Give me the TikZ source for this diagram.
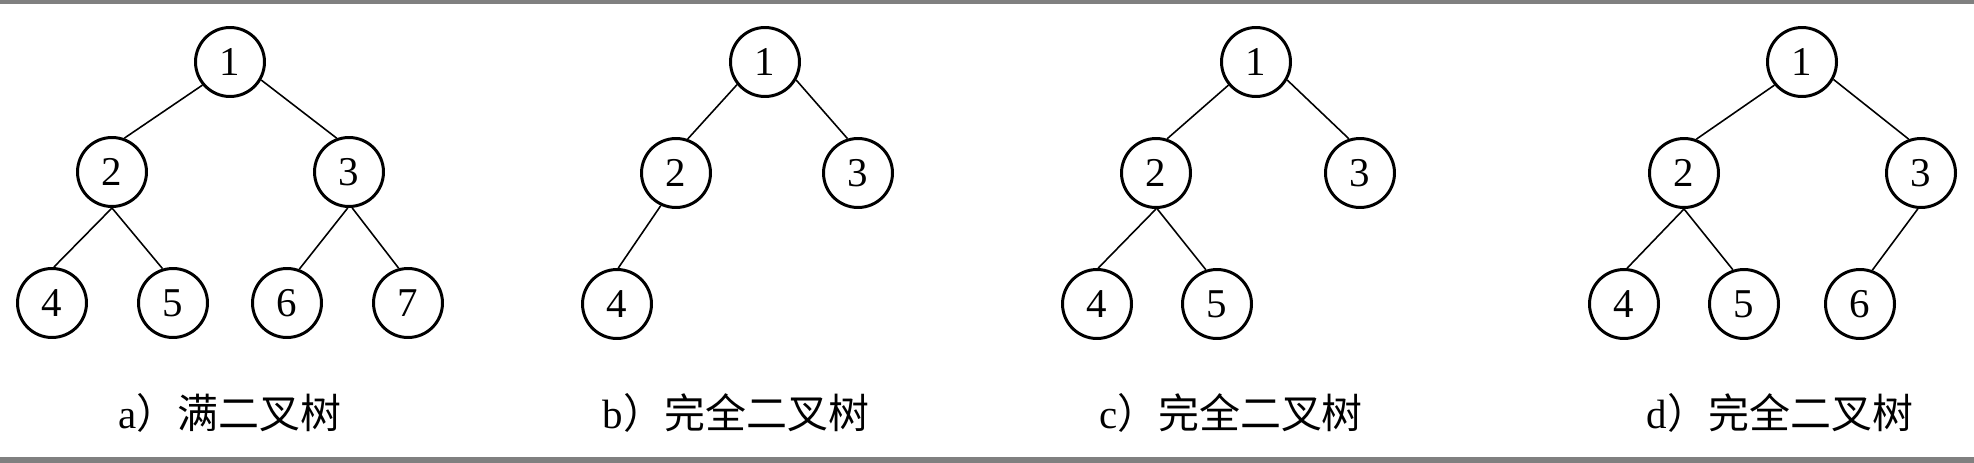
\documentclass[tikz,border=0pt]{standalone}
\usepackage{fontspec}
\usepackage{tikz}
\setmainfont{Liberation Serif}
\newfontfamily\cjk{Noto Sans CJK SC}
\tikzstyle{vertex} = [draw, circle, line width=1.7pt, minimum size=1.38cm, inner sep=0pt, font=\fontsize{23.3pt}{28pt}\selectfont]
\tikzstyle{edge} = [draw, line width=0.9pt]
\tikzstyle{caption} = [anchor=base, inner sep=0pt, font=\fontsize{23.3pt}{28pt}\selectfont]
\definecolor{bar}{RGB}{128, 128, 128}

\begin{document}
\begin{tikzpicture}[x=0.02cm, y=-0.02cm]

  \useasboundingbox (0,0) rectangle (1974,463);
  \fill[bar] (0,0) rectangle (1974,4);
  \fill[bar] (0,457) rectangle (1974,463);

  % ============================ a) full tree ==================================

  \node[vertex] (a1) at (230,62) {1};
  \node[vertex] (a2) at (112,172) {2};
  \node[vertex] (a3) at (349,172) {3};
  \node[vertex] (a4) at (52,303) {4};
  \node[vertex] (a5) at (173,303) {5};
  \node[vertex] (a6) at (287,303) {6};
  \node[vertex] (a7) at (408,303) {7};
  \node[caption] (acap) at (230,428) {a{\cjk ）满二叉树}};
  \path[edge] (a1.220) -- (a2.70);
  \path[edge] (a1.330) -- (a3.110);
  \path[edge] (a2.south) -- (a4.87);
  \path[edge] (a2.south) -- (a5.107);
  \path[edge] (a3.268) -- (a6.70);
  \path[edge] (a3.275) -- (a7.105);

  % ============================ b) complete tree ==============================

  \node[vertex] (b1) at (765,62) {1};
  \node[vertex] (b2) at (676,173) {2};
  \node[vertex] (b3) at (858,173) {3};
  \node[vertex] (b4) at (617,304) {4};
  \node[caption] (bcap) at (736,428) {b{\cjk ）完全二叉树}};
  \path[edge] (b1.219) -- (b2.71);
  \path[edge] (b1.330) -- (b3.107);
  \path[edge] (b2.245) -- (b4.88);

  % ============================ c) complete tree ==============================

  \node[vertex] (c1) at (1256,62) {1};
  \node[vertex] (c2) at (1156,173) {2};
  \node[vertex] (c3) at (1360,173) {3};
  \node[vertex] (c4) at (1097,304) {4};
  \node[vertex] (c5) at (1217,304) {5};
  \node[caption] (ccap) at (1231,428) {c{\cjk ）完全二叉树}};
  \path[edge] (c1.220) -- (c2.72);
  \path[edge] (c1.330) -- (c3.108);
  \path[edge] (c2.south) -- (c4.88);
  \path[edge] (c2.272) -- (c5.108);

  % ============================ d) complete tree ==============================

  \node[vertex] (d1) at (1802,62) {1};
  \node[vertex] (d2) at (1684,173) {2};
  \node[vertex] (d3) at (1921,173) {3};
  \node[vertex] (d4) at (1624,304) {4};
  \node[vertex] (d5) at (1744,304) {5};
  \node[vertex] (d6) at (1860,304) {6};
  \node[caption] (dcap) at (1780,428) {d{\cjk ）完全二叉树}};
  \path[edge] (d1.220) -- (d2.70);
  \path[edge] (d1.331) -- (d3.110);
  \path[edge] (d2.south) -- (d4.85);
  \path[edge] (d2.south) -- (d5.108);
  \path[edge] (d3.265) -- (d6.70);

\end{tikzpicture}
\end{document}
